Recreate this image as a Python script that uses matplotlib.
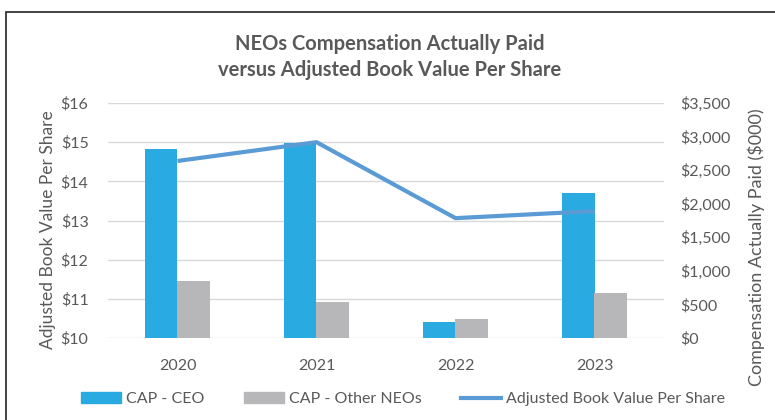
import matplotlib
matplotlib.use("Agg")
import matplotlib.pyplot as plt
import numpy as np
from matplotlib.patches import Rectangle, Patch
from matplotlib.lines import Line2D

years = ["2020", "2021", "2022", "2023"]
cap_ceo = [2815, 2900, 243, 2155]          # $000
cap_other = [849, 532, 278, 675]           # $000
book_value = [14.52, 15.00, 13.06, 13.24]  # $ per share

left_ticks = [10, 11, 12, 13, 14, 15, 16]
right_ticks = [0, 500, 1000, 1500, 2000, 2500, 3000, 3500]

plt.rcParams['font.family'] = ['Lato', 'DejaVu Sans']
txt = '#595959'
c_ceo = '#29ABE2'
c_other = '#B7B7B9'
c_line = '#5B9BD5'

fig = plt.figure(figsize=(7.75, 4.2), dpi=100)
ax_line = fig.add_axes([108/775, 1-338/420, (664-108)/775, (338-103)/420])
ax_bar = ax_line.twinx()
ax_bar.set_zorder(0)
ax_line.set_zorder(1)
ax_line.patch.set_visible(False)

ax_line.set_ylim(10, 16)
ax_bar.set_ylim(0, 3500)

# gridlines follow the left axis ticks but sit beneath the bars
for v in left_ticks:
    ax_bar.plot([0, 1], [v, v], transform=ax_line.get_yaxis_transform(),
                color='#D9D9D9', linewidth=1, zorder=1)

x = np.arange(len(years))
w = 0.233
ax_bar.bar(x - w/2, cap_ceo, width=w, color=c_ceo, zorder=2)
ax_bar.bar(x + w/2, cap_other, width=w, color=c_other, zorder=2)
ax_bar.set_ylim(0, 3500)
ax_bar.set_yticks(right_ticks)
ax_bar.set_yticklabels([f"${v:,}" for v in right_ticks])

ax_line.plot(x, book_value, color=c_line, linewidth=3, solid_capstyle='butt')
ax_line.set_ylim(10, 16)
ax_line.set_yticks(left_ticks)
ax_line.set_yticklabels([f"${v}" for v in left_ticks])
ax_line.set_xlim(-0.5, len(years) - 0.5)
ax_line.set_xticks(x)
ax_line.set_xticklabels(years)

for a in (ax_line, ax_bar):
    for s in a.spines.values():
        s.set_visible(False)
    a.tick_params(length=0, labelsize=11.5, colors=txt)
ax_line.tick_params(axis='y', pad=14)
ax_bar.tick_params(axis='y', pad=12)
ax_line.tick_params(axis='x', pad=15)

fig.text(48/775, 1-230/420, "Adjusted Book Value Per Share", rotation=90, ha='center', va='center',
         fontsize=12.5, color=txt)
fig.text(756/775, 1-247/420, "Compensation Actually Paid ($000)", rotation=90, ha='center', va='center',
         fontsize=13, color=txt)

fig.text(0.503, 1-44/420, "NEOs Compensation Actually Paid", ha='center', va='center',
         fontsize=14.5, fontweight='bold', color=txt)
fig.text(0.503, 1-70/420, "versus Adjusted Book Value Per Share", ha='center', va='center',
         fontsize=14.5, fontweight='bold', color=txt)

handles = [Patch(color=c_ceo, label="CAP - CEO"),
           Patch(color=c_other, label="CAP - Other NEOs"),
           Line2D([0], [0], color=c_line, linewidth=3, label="Adjusted Book Value Per Share")]
leg = fig.legend(handles=handles, loc='center', bbox_to_anchor=(403/775, 1-399/420), ncol=3,
                 frameon=False, fontsize=11.5, handlelength=2.5, handletextpad=0.3,
                 columnspacing=2.5, labelcolor=txt)

fig.patches.append(Rectangle((6/775, -0.1), 1.2, 0.1 + 1 - 12/420, transform=fig.transFigure,
                             fill=False, edgecolor='#222222', linewidth=1.2))

fig.savefig("out.png", dpi=100)
